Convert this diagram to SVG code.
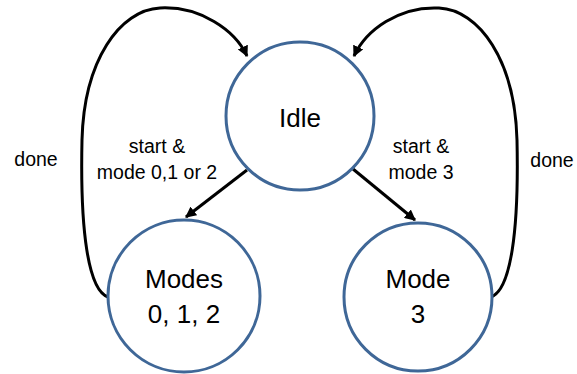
<svg xmlns="http://www.w3.org/2000/svg" width="577" height="374" viewBox="0 0 577 374">
<defs>
<marker id="ah" viewBox="0 0 10 10" refX="9" refY="5" markerWidth="11" markerHeight="11" markerUnits="userSpaceOnUse" orient="auto">
<path d="M0,0 L10,5 L0,10 z" fill="#000"/>
</marker>
<style>
.st{fill:#fff;stroke:#3F6797;stroke-width:3}
.big{font-family:"Liberation Sans",Arial,sans-serif;font-size:26px;fill:#000;text-anchor:middle}
.lbl{font-family:"Liberation Sans",Arial,sans-serif;font-size:19.5px;fill:#000;text-anchor:middle}
.edge{fill:none;stroke:#000;stroke-width:3;marker-end:url(#ah)}
</style>
</defs>
<rect width="577" height="374" fill="#fff"/>
<g id="connectors">
<path class="edge" d="M247,170 L186,217"/>
<path class="edge" d="M353,169 L415,220"/>
<path class="edge" d="M108,297 C88,290 80,230 82,140 C84,60 120,10 160,8 C200,6 235,30 247,56"/>
<path class="edge" d="M491,297 C511,290 519,230 517,140 C515,60 479,10 439,8 C399,6 366,30 354,56"/>
</g>
<g id="idle">
<circle class="st" cx="300" cy="116" r="74"/>
<text class="big" x="300" y="127">Idle</text>
</g>
<g id="modes012">
<circle class="st" cx="184" cy="296" r="76"/>
<text class="big" x="184" y="288">Modes</text>
<text class="big" x="184" y="323">0, 1, 2</text>
</g>
<g id="mode3">
<circle class="st" cx="418" cy="297" r="74"/>
<text class="big" x="418" y="288">Mode</text>
<text class="big" x="418" y="323">3</text>
</g>
<g id="labels">
<text class="lbl" x="157" y="153">start &amp;</text>
<text class="lbl" x="157" y="179">mode 0,1 or 2</text>
<text class="lbl" x="421" y="153">start &amp;</text>
<text class="lbl" x="421" y="179">mode 3</text>
<text class="lbl" x="36" y="166">done</text>
<text class="lbl" x="552" y="167">done</text>
</g>
</svg>
